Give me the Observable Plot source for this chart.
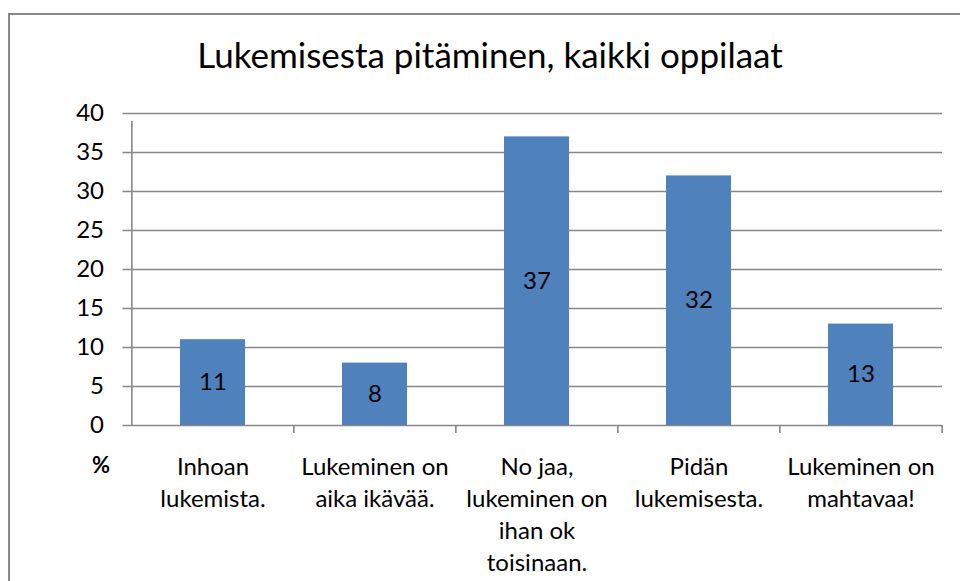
<!DOCTYPE html>
<html>
<head>
<meta charset="utf-8">
<script src="https://cdn.jsdelivr.net/npm/d3@7"></script>
<script src="https://cdn.jsdelivr.net/npm/@observablehq/plot@0.6"></script>
<style>
  html, body { margin: 0; padding: 0; background: #fff; }
  #wrap { position: relative; width: 960px; height: 581px; overflow: hidden; font-family: Lato, sans-serif; }
  #border { position: absolute; left: 8px; top: 13px; width: 1000px; height: 1000px; border: 2px solid #878787; box-sizing: border-box; }
  #title { position: absolute; left: 0; top: 37px; width: 980px; text-align: center; font-size: 35px; line-height: 1; color: #000; }
  #chart { position: absolute; left: 0; top: 0; }
</style>
</head>
<body>
<div id="wrap">
  <div id="border"></div>
  <div id="title"></div>
  <div id="chart"></div>
</div>
<script>
const title = "Lukemisesta pitäminen, kaikki oppilaat";
const categories = ["Inhoan lukemista.", "Lukeminen on aika ikävää.", "No jaa, lukeminen on ihan ok toisinaan.", "Pidän lukemisesta.", "Lukeminen on mahtavaa!"];
const tickLabels = ["Inhoan\nlukemista.", "Lukeminen on\naika ikävää.", "No jaa,\nlukeminen on\nihan ok\ntoisinaan.", "Pidän\nlukemisesta.", "Lukeminen on\nmahtavaa!"];
const values = [11, 8, 37, 32, 13];
const yTicks = [0, 5, 10, 15, 20, 25, 30, 35, 40];
const yLabel = "%";

document.getElementById("title").textContent = title;

const width = 960, height = 581;
const marginLeft = 130.5, marginRight = 18, marginTop = 113, marginBottom = 156;
const step = (width - marginLeft - marginRight) / categories.length;
const rows = categories.map((c, i) => ({cat: c, value: values[i]}));
const gridColor = "#878787";

const chart = Plot.plot({
  width, height, marginLeft, marginRight, marginTop, marginBottom,
  style: {fontFamily: "Lato, sans-serif", fontSize: "24px", color: "#000", overflow: "visible", background: "transparent"},
  x: {domain: categories, paddingInner: 0.6, paddingOuter: 0.3, axis: null},
  y: {domain: [0, 40], axis: null},
  marks: [
    Plot.ruleY(yTicks, {stroke: gridColor, strokeWidth: 1.6, insetLeft: -8}),
    Plot.ruleX([categories[0]], {x: d => d, y1: 0, y2: 40, dx: -step / 2, insetBottom: -8, stroke: gridColor, strokeWidth: 1.6}),
    Plot.ruleX(categories.slice(1), {x: d => d, y1: 0, y2: 0, dx: -step / 2, insetBottom: -8, stroke: gridColor, strokeWidth: 1.6}),
    Plot.ruleX([categories[categories.length - 1]], {x: d => d, y1: 0, y2: 0, dx: step / 2, insetBottom: -8, stroke: gridColor, strokeWidth: 1.6}),
    Plot.barY(rows, {x: "cat", y: "value", fill: "#4F81BD"}),
    Plot.text(rows, {x: "cat", y: d => d.value / 2, text: d => String(d.value), fill: "#000", fontSize: 24}),
    Plot.axisY(yTicks, {tickSize: 0, tickPadding: 27, fontSize: 24, fill: "#000", label: null}),
    Plot.text(categories, {x: d => d, frameAnchor: "bottom", text: (d, i) => tickLabels[i], lineAnchor: "top", dy: 27, lineHeight: 32 / 24, fontSize: 24, fill: "#000"}),
    Plot.text([yLabel], {frameAnchor: "bottom-left", textAnchor: "middle", text: d => d, dx: -30, dy: 47, fontWeight: "bold", fontSize: 22, fill: "#000"})
  ]
});
document.getElementById("chart").appendChild(chart);
</script>
</body>
</html>
